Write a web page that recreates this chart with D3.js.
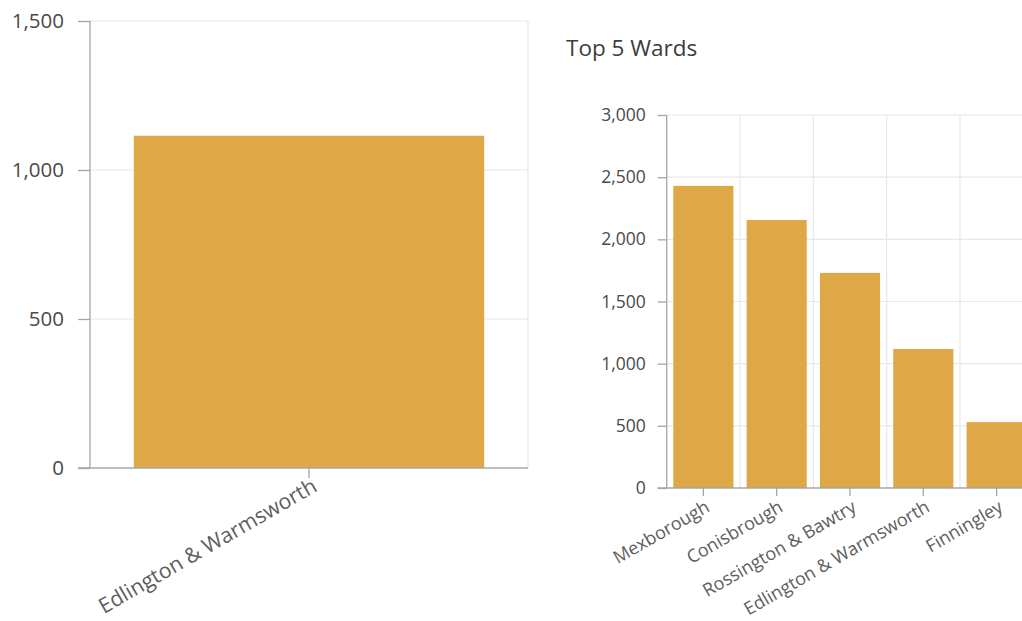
<!DOCTYPE html>
<html><head><meta charset="utf-8">
<script src="https://cdn.jsdelivr.net/npm/d3@7"></script>
<style>
html,body{margin:0;padding:0;background:#fff;}
svg{display:block;font-family:"Open Sans",sans-serif;}
</style></head>
<body>
<svg id="c" width="1022" height="621"></svg>
<script>
const leftCategories = ["Edlington & Warmsworth"];
const leftValues = [1115];
const leftTicks = [0, 500, 1000, 1500];

const topTitle = "Top 5 Wards";
const topCategories = ["Mexborough", "Conisbrough", "Rossington & Bawtry", "Edlington & Warmsworth", "Finningley"];
const topValues = [2430, 2155, 1730, 1118, 530];
const topTicks = [0, 500, 1000, 1500, 2000, 2500, 3000];

const barColor = "#dea846";
const gridColor = "#e8e8e8";
const axisColor = "#a6a6a6";
const textColor = "#4a4a4a";
const FONT = "'Open Sans', sans-serif";
const fmt = d3.format(",");

const svg = d3.select("#c");

function drawChart(g, cfg) {
  const x = d3.scaleBand().domain(cfg.categories).range([cfg.x0, cfg.x1])
    .paddingInner(cfg.pi).paddingOuter(cfg.po);
  const y = d3.scaleLinear().domain([0, cfg.ymax]).range([cfg.y0, cfg.y1]);

  g.append("g").selectAll("line").data(cfg.ticks.filter(d => d > 0)).join("line")
    .attr("x1", cfg.x0).attr("x2", cfg.gridRight)
    .attr("y1", d => y(d)).attr("y2", d => y(d))
    .attr("stroke", gridColor).attr("stroke-width", 1.2);
  g.append("g").selectAll("line").data(cfg.vgrid(x)).join("line")
    .attr("x1", d => d).attr("x2", d => d)
    .attr("y1", cfg.y1).attr("y2", cfg.y0)
    .attr("stroke", gridColor).attr("stroke-width", 1.2);

  g.append("g").selectAll("rect").data(cfg.values).join("rect")
    .attr("x", (d, i) => x(cfg.categories[i]))
    .attr("width", x.bandwidth())
    .attr("y", d => y(d))
    .attr("height", d => y(0) - y(d))
    .attr("fill", barColor);

  const ya = g.append("g").attr("transform", `translate(${cfg.x0},0)`)
    .call(d3.axisLeft(y).tickValues(cfg.ticks).tickFormat(fmt).tickSize(cfg.tick).tickPadding(cfg.tpad));
  ya.select(".domain").attr("stroke", axisColor).attr("stroke-width", 1.3).attr("d", `M0,${cfg.y0}V${cfg.y1}`);
  ya.selectAll(".tick line").attr("stroke", axisColor).attr("stroke-width", 1.3);
  ya.selectAll("text").attr("fill", textColor).attr("font-size", cfg.yfs).attr("font-family", FONT);

  const xa = g.append("g").attr("transform", `translate(0,${cfg.y0})`)
    .call(d3.axisBottom(x).tickSize(cfg.xtick).tickSizeOuter(0));
  xa.select(".domain").attr("stroke", axisColor).attr("stroke-width", 1.3)
    .attr("d", `M${cfg.x0 - cfg.tick},0H${cfg.axisRight}`);
  xa.selectAll(".tick line").attr("stroke", axisColor).attr("stroke-width", 1.3);
  xa.selectAll("text").attr("fill", "#5e5e5e").attr("font-size", cfg.xfs)
    .attr("font-family", FONT)
    .attr("text-anchor", "end")
    .attr("dy", "0")
    .attr("transform", `translate(${cfg.xdx},${cfg.xdy}) rotate(-30)`);
}

drawChart(svg.append("g"), {
  categories: leftCategories, values: leftValues, ticks: leftTicks, ymax: 1500,
  x0: 90, x1: 528, y0: 468, y1: 21, pi: 0.2, po: 0.1,
  gridRight: 528, axisRight: 528, tick: 12, tpad: 14, yfs: 20.5, xfs: 21.2,
  xtick: 10, xdx: 3, xdy: 11,
  vgrid: x => [528]
});

svg.append("text").attr("x", 566).attr("y", 56).text(topTitle)
  .attr("fill", "#3d3d3d").attr("font-size", 22.5).attr("font-family", FONT);

drawChart(svg.append("g"), {
  categories: topCategories, values: topValues, ticks: topTicks, ymax: 3000,
  x0: 666.7, x1: 1033.3, y0: 488, y1: 115, pi: 0.18, po: 0.09,
  gridRight: 1022, axisRight: 1022, tick: 9, tpad: 12, yfs: 17.5, xfs: 18,
  xtick: 8, xdx: 2, xdy: 13,
  vgrid: x => topCategories.slice(1).map(c => x(c) - x.step() * x.paddingInner() / 2)
});
</script>
</body></html>
